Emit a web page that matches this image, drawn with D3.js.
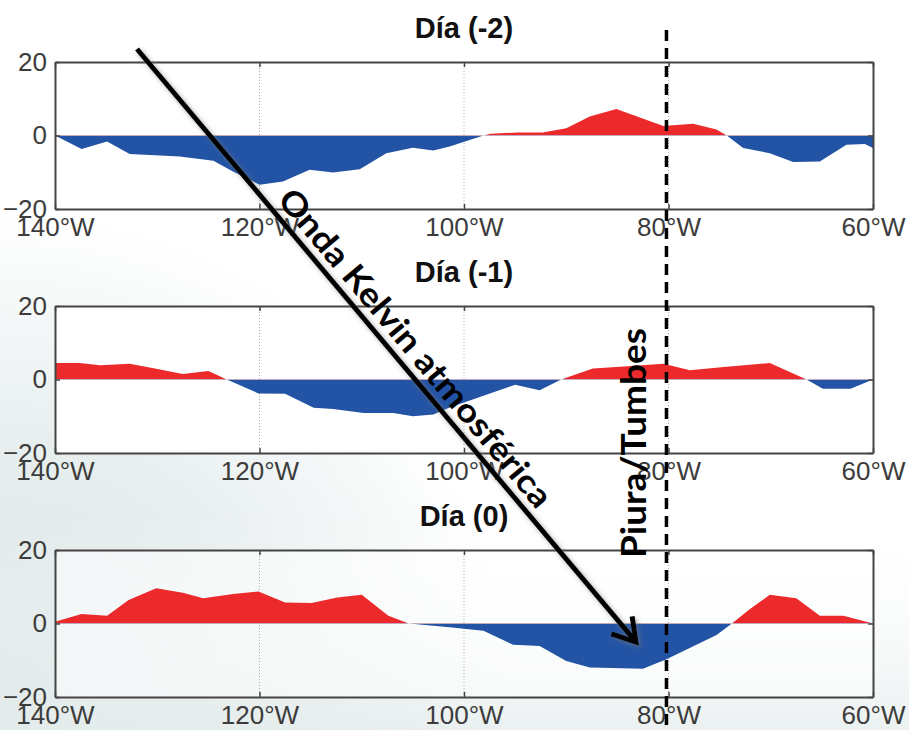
<!DOCTYPE html>
<html>
<head>
<meta charset="utf-8">
<script src="https://cdn.jsdelivr.net/npm/d3@7"></script>
<style>
  body { margin: 0; background: #fff; }
  svg { display: block; }
</style>
</head>
<body>
<svg id="chart"></svg>
<script>
// longitudes in degrees West, values of each panel
const lonDia2 = [140, 137.4, 134.9, 132.7, 127.8, 124.5, 122.6, 120, 117.7, 115.1, 112.8, 110.2, 107.6, 105, 103, 101.4, 98.1, 97.4, 94.8, 92.3, 90, 87.7, 85.1, 80.5, 77.6, 75.3, 74.3, 72.7, 70.1, 67.8, 65.2, 62.6, 60.8, 60];
const valDia2 = [0, -3.7, -1.6, -5.0, -5.7, -6.9, -9.8, -13.4, -12.5, -9.3, -10.1, -9.2, -4.8, -3.3, -4.1, -3.0, 0, 0.5, 0.8, 0.8, 2.0, 5.2, 7.2, 2.6, 3.2, 1.6, 0, -3.4, -4.8, -7.2, -7.1, -2.5, -2.3, -3.4];

const lonDia1 = [140, 137.6, 135.6, 132.7, 130.1, 127.5, 125, 123.2, 120.1, 117.5, 114.7, 112.8, 109.8, 106.9, 105, 103, 101.4, 95, 92.6, 90.5, 87.4, 84, 80.5, 77.9, 74.6, 70.1, 66.5, 64.9, 62.2, 60];
const valDia1 = [4.5, 4.5, 3.9, 4.3, 2.9, 1.5, 2.3, 0, -3.8, -3.9, -7.7, -8.0, -9.1, -9.1, -10.0, -9.5, -7.6, -1.4, -2.9, 0, 3.0, 3.6, 4.3, 2.5, 3.4, 4.5, 0, -2.5, -2.5, 0];

const lonDia0 = [140, 137.4, 134.9, 132.8, 130.1, 127.5, 125.5, 122.6, 120.1, 117.5, 114.9, 112.4, 110, 107.4, 105.4, 101.4, 98.1, 95.2, 92.6, 90, 87.7, 82.5, 80.2, 75.3, 73.8, 72, 70.1, 67.5, 65.2, 62.9, 60];
const valDia0 = [0.5, 2.6, 2.1, 6.4, 9.6, 8.4, 6.9, 8.0, 8.7, 5.7, 5.6, 7.1, 7.8, 2.1, 0, -1.0, -2.0, -5.8, -6.1, -10.2, -12.0, -12.3, -9.7, -3.1, 0, 4.0, 7.8, 6.9, 2.1, 2.1, 0];

const titles = ["Día (-2)", "Día (-1)", "Día (0)"];
const xTicks = [140, 120, 100, 80, 60];
const yTicks = [-20, 0, 20];
const gridLons = [120, 100, 80];
const piuraLon = 80.2;

const W = 909, H = 730;
const panelTops = [62, 306, 550];
const panelH = 147;
const red = "#ec2a2b", blue = "#2253a5";

const svg = d3.select("#chart").attr("width", W).attr("height", H);
const defs = svg.append("defs");

// background tint bottom-left
const rg = defs.append("radialGradient").attr("id", "bg")
  .attr("gradientUnits", "userSpaceOnUse")
  .attr("cx", 0).attr("cy", H).attr("r", 520);
rg.append("stop").attr("offset", 0).attr("stop-color", "#d3e0e1");
rg.append("stop").attr("offset", 0.6).attr("stop-color", "#eaf0f0");
rg.append("stop").attr("offset", 1).attr("stop-color", "#ffffff");
const lg = defs.append("linearGradient").attr("id", "bg2")
  .attr("x1", 0).attr("y1", 0).attr("x2", 0).attr("y2", 1);
lg.append("stop").attr("offset", 0.7).attr("stop-color", "#fff").attr("stop-opacity", 0);
lg.append("stop").attr("offset", 1).attr("stop-color", "#e6eded").attr("stop-opacity", 0.8);

const blur = defs.append("filter").attr("id", "blur")
  .attr("x", "-50%").attr("y", "-10%").attr("width", "200%").attr("height", "120%");
blur.append("feGaussianBlur").attr("stdDeviation", 3);

const shadow = defs.append("filter").attr("id", "shadow")
  .attr("x", "-20%").attr("y", "-20%").attr("width", "140%").attr("height", "140%");
shadow.append("feDropShadow").attr("dx", 2).attr("dy", 2).attr("stdDeviation", 2.5)
  .attr("flood-color", "#777").attr("flood-opacity", 0.6);

svg.append("rect").attr("width", W).attr("height", H).attr("fill", "url(#bg)");
svg.append("rect").attr("width", W).attr("height", H).attr("fill", "url(#bg2)");

const x = d3.scaleLinear().domain([140, 60]).range([55, 873]);

const panels = [
  { title: titles[0], lon: lonDia2, val: valDia2, top: panelTops[0], bgOpacity: 1 },
  { title: titles[1], lon: lonDia1, val: valDia1, top: panelTops[1], bgOpacity: 1 },
  { title: titles[2], lon: lonDia0, val: valDia0, top: panelTops[2], bgOpacity: 0.55 }
];

panels.forEach((p, i) => {
  const y = d3.scaleLinear().domain([-20, 20]).range([p.top + panelH, p.top]);
  const g = svg.append("g");
  const data = p.lon.map((d, k) => ({ lon: d, v: p.val[k] }));

  g.append("rect")
    .attr("x", x(140)).attr("y", y(20))
    .attr("width", x(60) - x(140)).attr("height", y(-20) - y(20))
    .attr("fill", "#fff").attr("fill-opacity", p.bgOpacity);

  // dotted grid
  g.selectAll(".grid").data(gridLons).enter().append("line")
    .attr("x1", d => x(d)).attr("x2", d => x(d))
    .attr("y1", y(20)).attr("y2", y(-20))
    .attr("stroke", "#aaa").attr("stroke-width", 1)
    .attr("stroke-dasharray", "1,2");

  // clip above / below zero
  defs.append("clipPath").attr("id", "pos" + i).append("rect")
    .attr("x", x(140)).attr("y", y(20))
    .attr("width", x(60) - x(140)).attr("height", y(0) - y(20));
  defs.append("clipPath").attr("id", "neg" + i).append("rect")
    .attr("x", x(140)).attr("y", y(0))
    .attr("width", x(60) - x(140)).attr("height", y(-20) - y(0));

  const area = d3.area()
    .x(d => x(d.lon))
    .y0(y(0))
    .y1(d => y(d.v));

  g.append("path").datum(data).attr("d", area)
    .attr("fill", red).attr("clip-path", `url(#pos${i})`);
  g.append("path").datum(data).attr("d", area)
    .attr("fill", blue).attr("clip-path", `url(#neg${i})`);

  // axes with inward ticks
  const axStyle = sel => {
    sel.select(".domain").attr("stroke", "#444").attr("stroke-width", 2);
    sel.selectAll(".tick line").attr("stroke", "#444").attr("stroke-width", 1.5);
    sel.selectAll("text")
      .attr("font-family", "'Liberation Sans', Arial, sans-serif")
      .attr("font-size", 26).attr("fill", "#3c3c3c");
  };

  g.append("g").attr("transform", `translate(0,${y(-20)})`)
    .call(d3.axisBottom(x).tickValues(xTicks).tickFormat(d => d + "°W")
      .tickSizeInner(-5).tickSizeOuter(0).tickPadding(9))
    .call(axStyle);
  g.append("g").attr("transform", `translate(0,${y(20)})`)
    .call(d3.axisTop(x).tickValues(xTicks).tickFormat("")
      .tickSizeInner(-5).tickSizeOuter(0))
    .call(axStyle);
  g.append("g").attr("transform", `translate(${x(140)},0)`)
    .call(d3.axisLeft(y).tickValues(yTicks).tickFormat(d3.format("d"))
      .tickSizeInner(-5).tickSizeOuter(0).tickPadding(8))
    .call(axStyle);
  g.append("g").attr("transform", `translate(${x(60)},0)`)
    .call(d3.axisRight(y).tickValues(yTicks).tickFormat("")
      .tickSizeInner(-5).tickSizeOuter(0))
    .call(axStyle);

  // title
  svg.append("text")
    .attr("x", x(100)).attr("y", p.top - 24)
    .attr("text-anchor", "middle")
    .attr("font-family", "'Liberation Sans', Arial, sans-serif")
    .attr("font-weight", "bold").attr("font-size", 29)
    .attr("fill", "#111")
    .text(p.title);
});

// Piura/Tumbes dashed line
const px = x(piuraLon);
svg.append("line")
  .attr("x1", px).attr("x2", px).attr("y1", 30).attr("y2", H)
  .attr("stroke", "#888").attr("stroke-width", 7).attr("stroke-opacity", 0.6)
  .attr("filter", "url(#blur)");
svg.append("line")
  .attr("x1", px).attr("x2", px).attr("y1", 30).attr("y2", H)
  .attr("stroke", "#000").attr("stroke-width", 3.5)
  .attr("stroke-dasharray", "11,7");

svg.append("text")
  .attr("transform", `translate(${px - 20},${443}) rotate(-90)`)
  .attr("text-anchor", "middle")
  .attr("font-family", "Lato, 'Open Sans', sans-serif")
  .attr("font-weight", "bold").attr("font-size", 34)
  .attr("textLength", 230).attr("lengthAdjust", "spacingAndGlyphs")
  .attr("fill", "#000")
  .text("Piura/Tumbes");

// Kelvin wave arrow
const a0 = [137, 49], a1 = [636, 642];
const ang = Math.atan2(a1[1] - a0[1], a1[0] - a0[0]);
const ux = Math.cos(ang), uy = Math.sin(ang);
const headLen = 26, headAng = 0.55;
const wing = s => [a1[0] - headLen * Math.cos(ang + s * headAng), a1[1] - headLen * Math.sin(ang + s * headAng)];
const arrow = svg.append("g").attr("filter", "url(#shadow)");
arrow.append("line")
  .attr("x1", a0[0]).attr("y1", a0[1]).attr("x2", a1[0] - ux * 2).attr("y2", a1[1] - uy * 2)
  .attr("stroke", "#000").attr("stroke-width", 5);
arrow.append("path")
  .attr("d", d3.line()([wing(1), a1, wing(-1)]))
  .attr("fill", "none").attr("stroke", "#000").attr("stroke-width", 5)
  .attr("stroke-linejoin", "miter");

const along = 408, off = 9;
const tx = a0[0] + ux * along + uy * off;
const ty = a0[1] + uy * along - ux * off;
svg.append("text")
  .attr("transform", `translate(${tx},${ty}) rotate(${ang * 180 / Math.PI})`)
  .attr("text-anchor", "middle")
  .attr("font-family", "Lato, 'Open Sans', sans-serif")
  .attr("font-weight", "bold").attr("font-size", 33)
  .attr("textLength", 405).attr("lengthAdjust", "spacingAndGlyphs")
  .attr("fill", "#000")
  .text("Onda Kelvin atmosférica");
</script>
</body>
</html>
